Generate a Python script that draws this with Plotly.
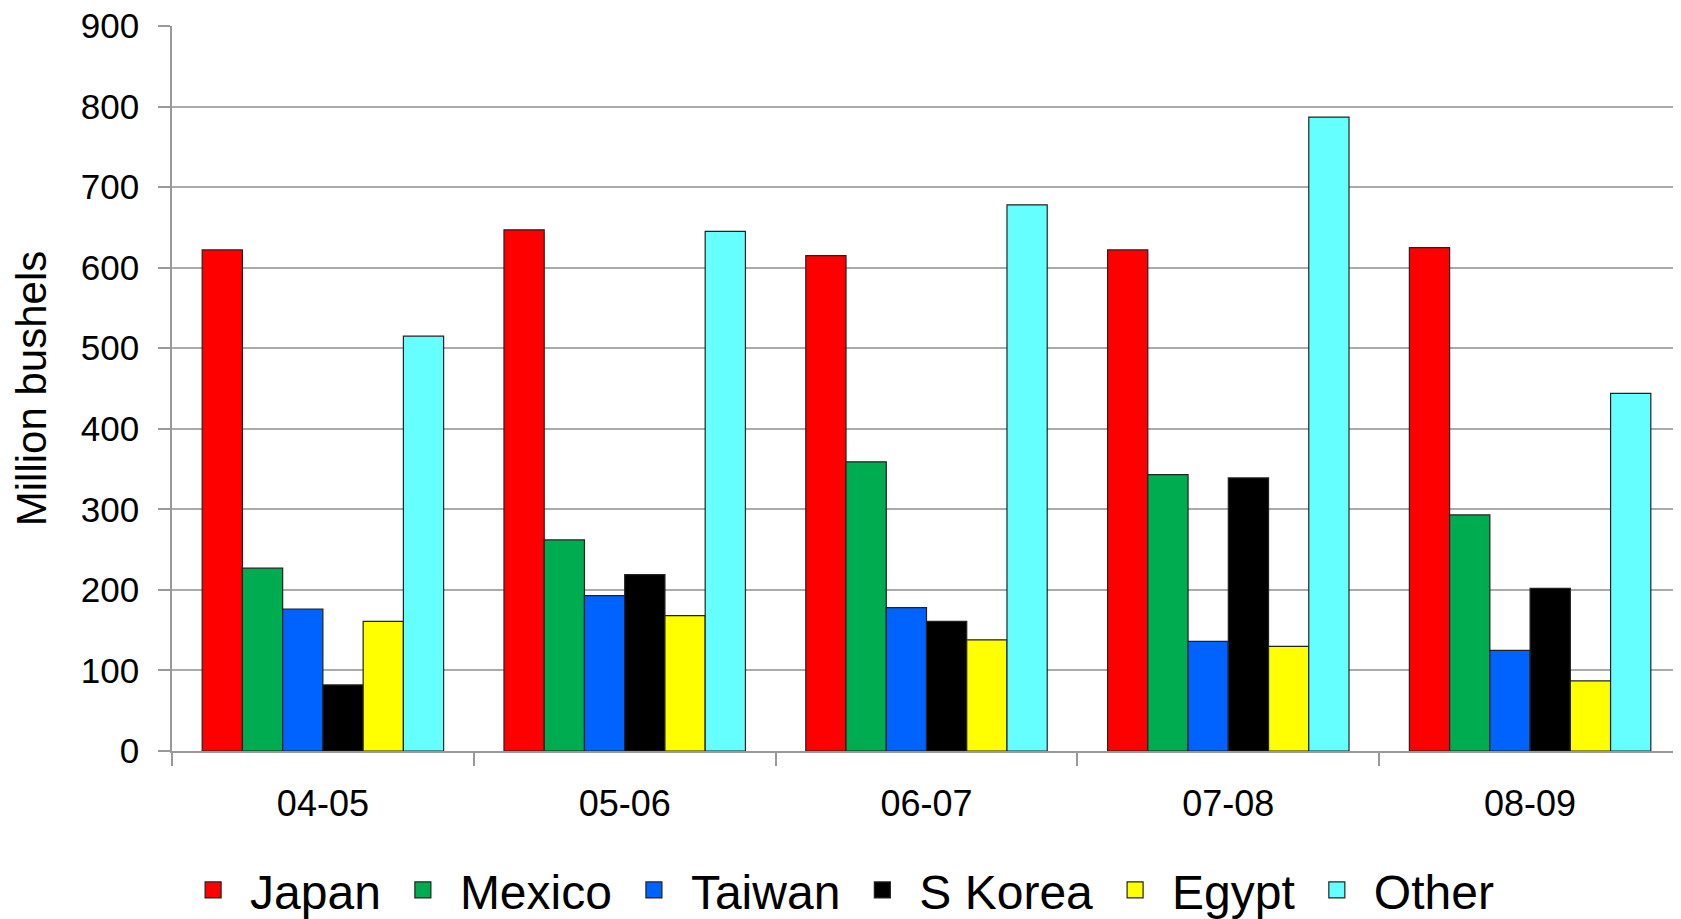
import plotly.graph_objects as go

seasons = ["04-05", "05-06", "06-07", "07-08", "08-09"]
japan = [622, 647, 615, 622, 625]
mexico = [227, 262, 359, 343, 293]
taiwan = [176, 193, 178, 136, 125]
s_korea = [82, 219, 161, 339, 202]
egypt = [161, 168, 138, 130, 87]
other = [515, 645, 678, 787, 444]

series = [
    ("Japan", japan, "#FF0000"),
    ("Mexico", mexico, "#00AC50"),
    ("Taiwan", taiwan, "#0062FF"),
    ("S Korea", s_korea, "#000000"),
    ("Egypt", egypt, "#FFFF00"),
    ("Other", other, "#66FFFF"),
]

fig = go.Figure()
for name, vals, col in series:
    fig.add_trace(go.Bar(
        x=seasons, y=vals, name=name, showlegend=False,
        marker=dict(color=col, line=dict(color="#222222", width=1.2)),
    ))
# legend entries with larger square swatches
for name, vals, col in series:
    fig.add_trace(go.Scatter(
        x=[None], y=[None], name=name, mode="markers",
        marker=dict(symbol="square", size=22, color=col,
                    line=dict(color="#222222", width=1.2)),
    ))

font_family = "Liberation Sans, Arial, sans-serif"
fig.update_layout(
    width=1681, height=919,
    barmode="group", bargap=0.2, bargroupgap=0,
    plot_bgcolor="white", paper_bgcolor="white",
    margin=dict(l=164, r=8, t=18, b=176, autoexpand=False),
    font=dict(family=font_family, color="black"),
    showlegend=True,
    legend=dict(
        orientation="h", xref="container", yref="container",
        x=0.1, xanchor="left", y=0.04, yanchor="middle",
        font=dict(size=48, family=font_family), itemwidth=64,
        traceorder="normal",
    ),
    xaxis=dict(
        type="category", automargin=False,
        showline=True, linecolor="#999999", linewidth=1.5,
        ticks="outside", tickson="boundaries", ticklen=13, tickcolor="#999999",
        tickwidth=1.5, tickfont=dict(size=36), showgrid=False,
        ticklabelstandoff=20,
    ),
    yaxis=dict(
        range=[0, 900], dtick=100, tick0=0, automargin=False,
        showline=True, linecolor="#999999", linewidth=1.5,
        ticks="outside", ticklen=12, tickcolor="#999999", tickwidth=1.5,
        tickfont=dict(size=35), ticklabelstandoff=12, ticklabeloverflow="allow",
        showgrid=True, gridcolor="#AAAAAA", gridwidth=1.5,
        zeroline=False,
        title=dict(text="Million bushels", font=dict(size=42), standoff=22),
    ),
)

fig.write_html("out.html")
